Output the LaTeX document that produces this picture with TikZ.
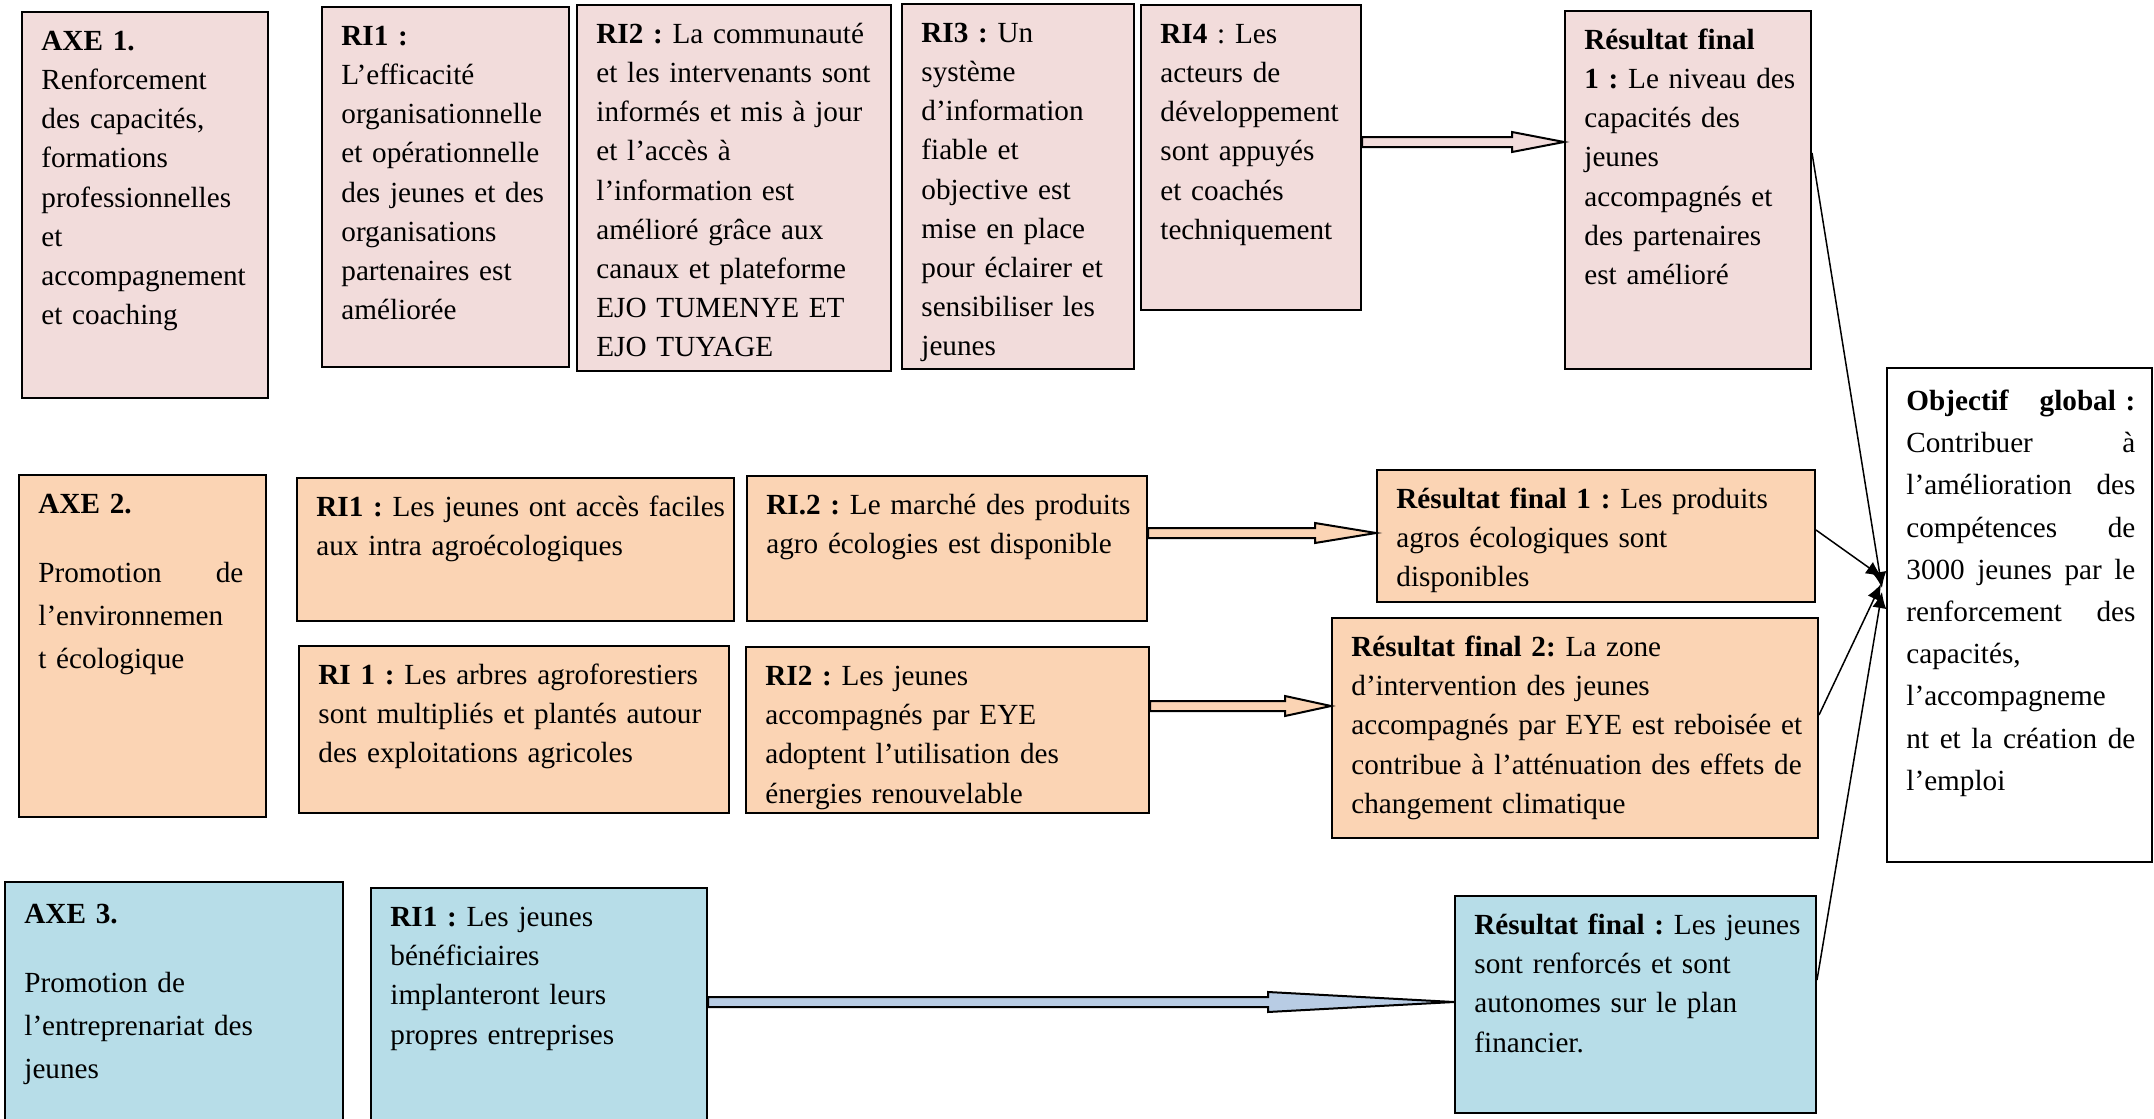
\documentclass[tikz,border=0pt]{standalone}
\usepackage{fontspec}
\setmainfont{Liberation Serif}
\usepackage{xcolor}
\usepackage{tikz}
\usetikzlibrary{arrows.meta}
\usetikzlibrary{calc}
\frenchspacing
\definecolor{rose}{HTML}{F2DCDB}
\definecolor{peche}{HTML}{FBD4B4}
\definecolor{azur}{HTML}{B7DDE8}
\definecolor{bleuf}{HTML}{B8CCE4}
\newcommand{\fleche}{-{Latex[length=8pt,width=7pt]}}
\newcommand{\cadre}[8]{%
  \pgfmathsetmacro{\largeur}{(#5-#3)*0.5}%
  \pgfmathsetmacro{\hauteur}{(#6-#4)*0.5}%
  \node[boite,#2,minimum width=\largeur pt,minimum height=\hauteur pt] (#1) at (#3,#4) {};
  \node[texte,#7,text width=\largeur pt] (#1-t) at ([xshift=10pt,yshift=-19.7pt]#1.north west) {#8};}
\newcommand{\blocfleche}[4]{%
  \draw[bloc,#4] ($(#1)+(0,-5)$) -- ($(#2)+(-#3,-5)$) -- ($(#2)+(-#3,-10)$) -- (#2)
    -- ($(#2)+(-#3,10)$) -- ($(#2)+(-#3,5)$) -- ($(#1)+(0,5)$) -- cycle;}
\newcommand{\ligne}[1]{\makebox[114.5pt]{#1}}

\begin{document}
\begin{tikzpicture}[x=0.5pt,y=-0.5pt,
    boite/.style={anchor=north west,draw,line width=1pt,inner sep=0pt},
    texte/.style={anchor=base west,inner sep=0pt,align=left,font=\fontsize{14.6}{19.6}\selectfont},
    axe/.style={font=\fontsize{14.6}{21.5}\selectfont},
    bloc/.style={draw,line width=1pt,line join=miter},
    lien/.style={line width=0.75pt}]
    \useasboundingbox (0,0) rectangle (2154,1119);

    \cadre{axeA}{fill=rose}{21}{11}{267}{397}{}{\textbf{AXE 1.}\\Renforcement\\des capacités,\\formations\\professionnelles\\et\\accompagnement\\et coaching}
    \cadre{riA1}{fill=rose}{321}{6}{568}{366}{}{\textbf{RI1 :}\\L’efficacité\\organisationnelle\\et opérationnelle\\des jeunes et des\\organisations\\partenaires est\\améliorée}
    \cadre{riA2}{fill=rose}{576}{4}{890}{370}{}{\textbf{RI2 :} La communauté\\et les intervenants sont\\informés et mis à jour\\et l’accès à\\l’information est\\amélioré grâce aux\\canaux et plateforme\\EJO TUMENYE ET\\EJO TUYAGE}
    \cadre{riA3}{fill=rose}{901}{3}{1133}{368}{}{\textbf{RI3 :} Un\\système\\d’information\\fiable et\\objective est\\mise en place\\pour éclairer et\\sensibiliser les\\jeunes}
    \cadre{riA4}{fill=rose}{1140}{4}{1360}{309}{}{\textbf{RI4} : Les\\acteurs de\\développement\\sont appuyés\\et coachés\\techniquement}
    \cadre{rfA}{fill=rose}{1564}{10}{1810}{368}{}{\textbf{Résultat final}\\\textbf{1 :} Le niveau des\\capacités des\\jeunes\\accompagnés et\\des partenaires\\est amélioré}

    \cadre{obj}{fill=white}{1886}{367}{2151}{861}{yshift=-2pt,font=\fontsize{14.6}{21.1}\selectfont}{\ligne{\textbf{Objectif\hfill global :}}\\\ligne{Contribuer\hfill à}\\\ligne{l’amélioration\hfill des}\\\ligne{compétences\hfill de}\\\ligne{3000\hfill jeunes\hfill par\hfill le}\\\ligne{renforcement\hfill des}\\capacités,\\l’accompagneme\\\ligne{nt\hfill et\hfill la\hfill création\hfill de}\\l’emploi}

    \cadre{axeB}{fill=peche}{18}{474}{265}{816}{axe}{\textbf{AXE 2.}\\[13pt]\makebox[102.5pt]{Promotion\hfill de}\\l’environnemen\\t écologique}
    \cadre{riB1}{fill=peche}{296}{477}{733}{620}{}{\textbf{RI1 :} Les jeunes ont accès faciles\\aux intra agroécologiques}
    \cadre{riB2}{fill=peche}{746}{475}{1146}{620}{}{\textbf{RI.2 :} Le marché des produits\\agro écologies est disponible}
    \cadre{riB3}{fill=peche}{298}{645}{728}{812}{}{\textbf{RI 1 :} Les arbres agroforestiers\\sont multipliés et plantés autour\\des exploitations agricoles}
    \cadre{riB4}{fill=peche}{745}{646}{1148}{812}{}{\textbf{RI2 :} Les jeunes\\accompagnés par EYE\\adoptent l’utilisation des\\énergies renouvelable}
    \cadre{rfB1}{fill=peche}{1376}{469}{1814}{601}{}{\textbf{Résultat final 1 :} Les produits\\agros écologiques sont\\disponibles}
    \cadre{rfB2}{fill=peche}{1331}{617}{1817}{837}{}{\textbf{Résultat final 2:} La zone\\d’intervention des jeunes\\accompagnés par EYE est reboisée et\\contribue à l’atténuation des effets de\\changement climatique}

    \cadre{axeC}{fill=azur}{4}{881}{342}{1140}{axe,yshift=-1.5pt}{\textbf{AXE 3.}\\[13pt]Promotion de\\l’entreprenariat des\\jeunes}
    \cadre{riC1}{fill=azur}{370}{887}{706}{1140}{}{\textbf{RI1 :} Les jeunes\\bénéficiaires\\implanteront leurs\\propres entreprises}
    \cadre{rfC}{fill=azur}{1454}{895}{1815}{1112}{}{\textbf{Résultat final :} Les jeunes\\sont renforcés et sont\\autonomes sur le plan\\financier.}

    \coordinate (fA-d) at (riA4.east |- 0,142);
    \coordinate (fA-f) at (rfA.west |- 0,142);
    \coordinate (fB-d) at (riB2.east |- 0,533);
    \coordinate (fB-f) at (rfB1.west |- 0,533);
    \coordinate (fC-d) at (riB4.east |- 0,706);
    \coordinate (fC-f) at (rfB2.west |- 0,706);
    \coordinate (fD-d) at (riC1.east |- 0,1002);
    \coordinate (fD-f) at (rfC.west |- 0,1002);
    \blocfleche{fA-d}{fA-f}{52}{fill=rose}
    \blocfleche{fB-d}{fB-f}{61}{fill=peche}
    \blocfleche{fC-d}{fC-f}{46}{fill=peche}
    \blocfleche{fD-d}{fD-f}{186}{fill=bleuf}

    \coordinate (cA) at (1882,588);
    \coordinate (cB) at (1882,577);
    \coordinate (cC) at (1881,584);
    \coordinate (cD) at (1882,592);
    \draw[lien,\fleche] (rfA.east |- 0,153) -- (cA);
    \draw[lien,\fleche] (rfB1.east |- 0,530) -- (cB);
    \draw[lien,\fleche] (rfB2.east |- 0,715) -- (cC);
    \draw[lien,\fleche] (rfC.east |- 0,980) -- (cD);
\end{tikzpicture}
\end{document}
